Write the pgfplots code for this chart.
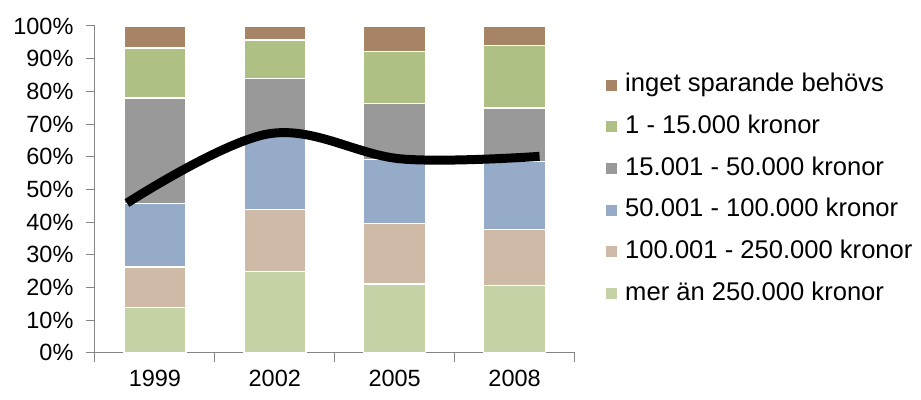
\documentclass[border=0pt]{standalone}
\usepackage{pgfplots}
\pgfplotsset{compat=1.18}
\usepackage{fontspec}
\setmainfont{Liberation Sans}
\definecolor{cBrown}{RGB}{168,132,102}
\definecolor{cGreen}{RGB}{174,192,131}
\definecolor{cGray}{RGB}{153,153,153}
\definecolor{cBlue}{RGB}{150,171,200}
\definecolor{cTan}{RGB}{206,186,166}
\definecolor{cLight}{RGB}{196,210,165}
\definecolor{axisgray}{RGB}{134,134,134}
\begin{document}
\begin{tikzpicture}
\begin{axis}[
  scale only axis, width=480pt, height=327pt,
  xmin=-0.5, xmax=3.5, ymin=0, ymax=100,
  axis x line*=bottom, axis y line*=left,
  axis line style={draw=axisgray, line width=1pt},
  ytick={0,10,...,100},
  yticklabel={\pgfmathprintnumber{\tick}\%},
  /pgf/number format/assume math mode=true,
  xtick={0,1,2,3}, xticklabels={1999,2002,2005,2008},
  major x tick style={draw=none},
  minor xtick={-0.5,0.5,1.5,2.5,3.5},
  tick align=outside,
  minor tick length=9pt, major tick length=9pt,
  tick style={draw=axisgray, line width=1pt},
  ticklabel style={font=\fontsize{23.5}{28}\selectfont},
  xticklabel style={yshift=-5pt},
  yticklabel style={xshift=-9pt},
  ybar stacked, bar width=62pt,
  reverse legend,
  legend cell align=left,
  legend style={at={(1,0.5)}, anchor=west, xshift=31pt, draw=none, fill=none,
    inner sep=0pt, font=\fontsize{25.6}{30}\selectfont, row sep=18.7pt,
    nodes={inner ysep=0pt, inner xsep=8.5pt, text height=18pt, text depth=5pt}},
  legend image code/.code={\fill[#1,draw=none] (0pt,-5.5pt) rectangle (11pt,5.5pt);},
]
\addplot[fill=cLight, draw=white, line width=1.5pt] coordinates {(0,13.9) (1,24.8) (2,21.1) (3,20.6)};
\addplot[fill=cTan, draw=white, line width=1.5pt] coordinates {(0,12.3) (1,19.0) (2,18.4) (3,17.1)};
\addplot[fill=cBlue, draw=white, line width=1.5pt] coordinates {(0,19.4) (1,22.4) (2,19.6) (3,20.8)};
\addplot[fill=cGray, draw=white, line width=1.5pt] coordinates {(0,32.3) (1,17.8) (2,17.1) (3,16.4)};
\addplot[fill=cGreen, draw=white, line width=1.5pt] coordinates {(0,15.3) (1,11.7) (2,16.0) (3,19.1)};
\addplot[fill=cBrown, draw=white, line width=1.5pt] coordinates {(0,6.8) (1,4.3) (2,7.8) (3,6.0)};
\legend{mer än 250.000 kronor, 100.001 - 250.000 kronor, 50.001 - 100.000 kronor, 15.001 - 50.000 kronor, 1 - 15.000 kronor, inget sparande behövs}
\end{axis}
\begin{axis}[
  scale only axis, width=480pt, height=327pt,
  xmin=-0.5, xmax=3.5, ymin=0, ymax=100,
  hide axis, clip=false,
]
\addplot[black, line width=9pt, smooth, tension=0.6] coordinates {(-0.233,45.8) (0.95,67.0) (2.061,59.3) (3.208,60.1)};
\end{axis}
\path (current axis.south west) ++(-95pt,-47pt) rectangle ++(921pt,400pt);
\end{tikzpicture}
\end{document}
